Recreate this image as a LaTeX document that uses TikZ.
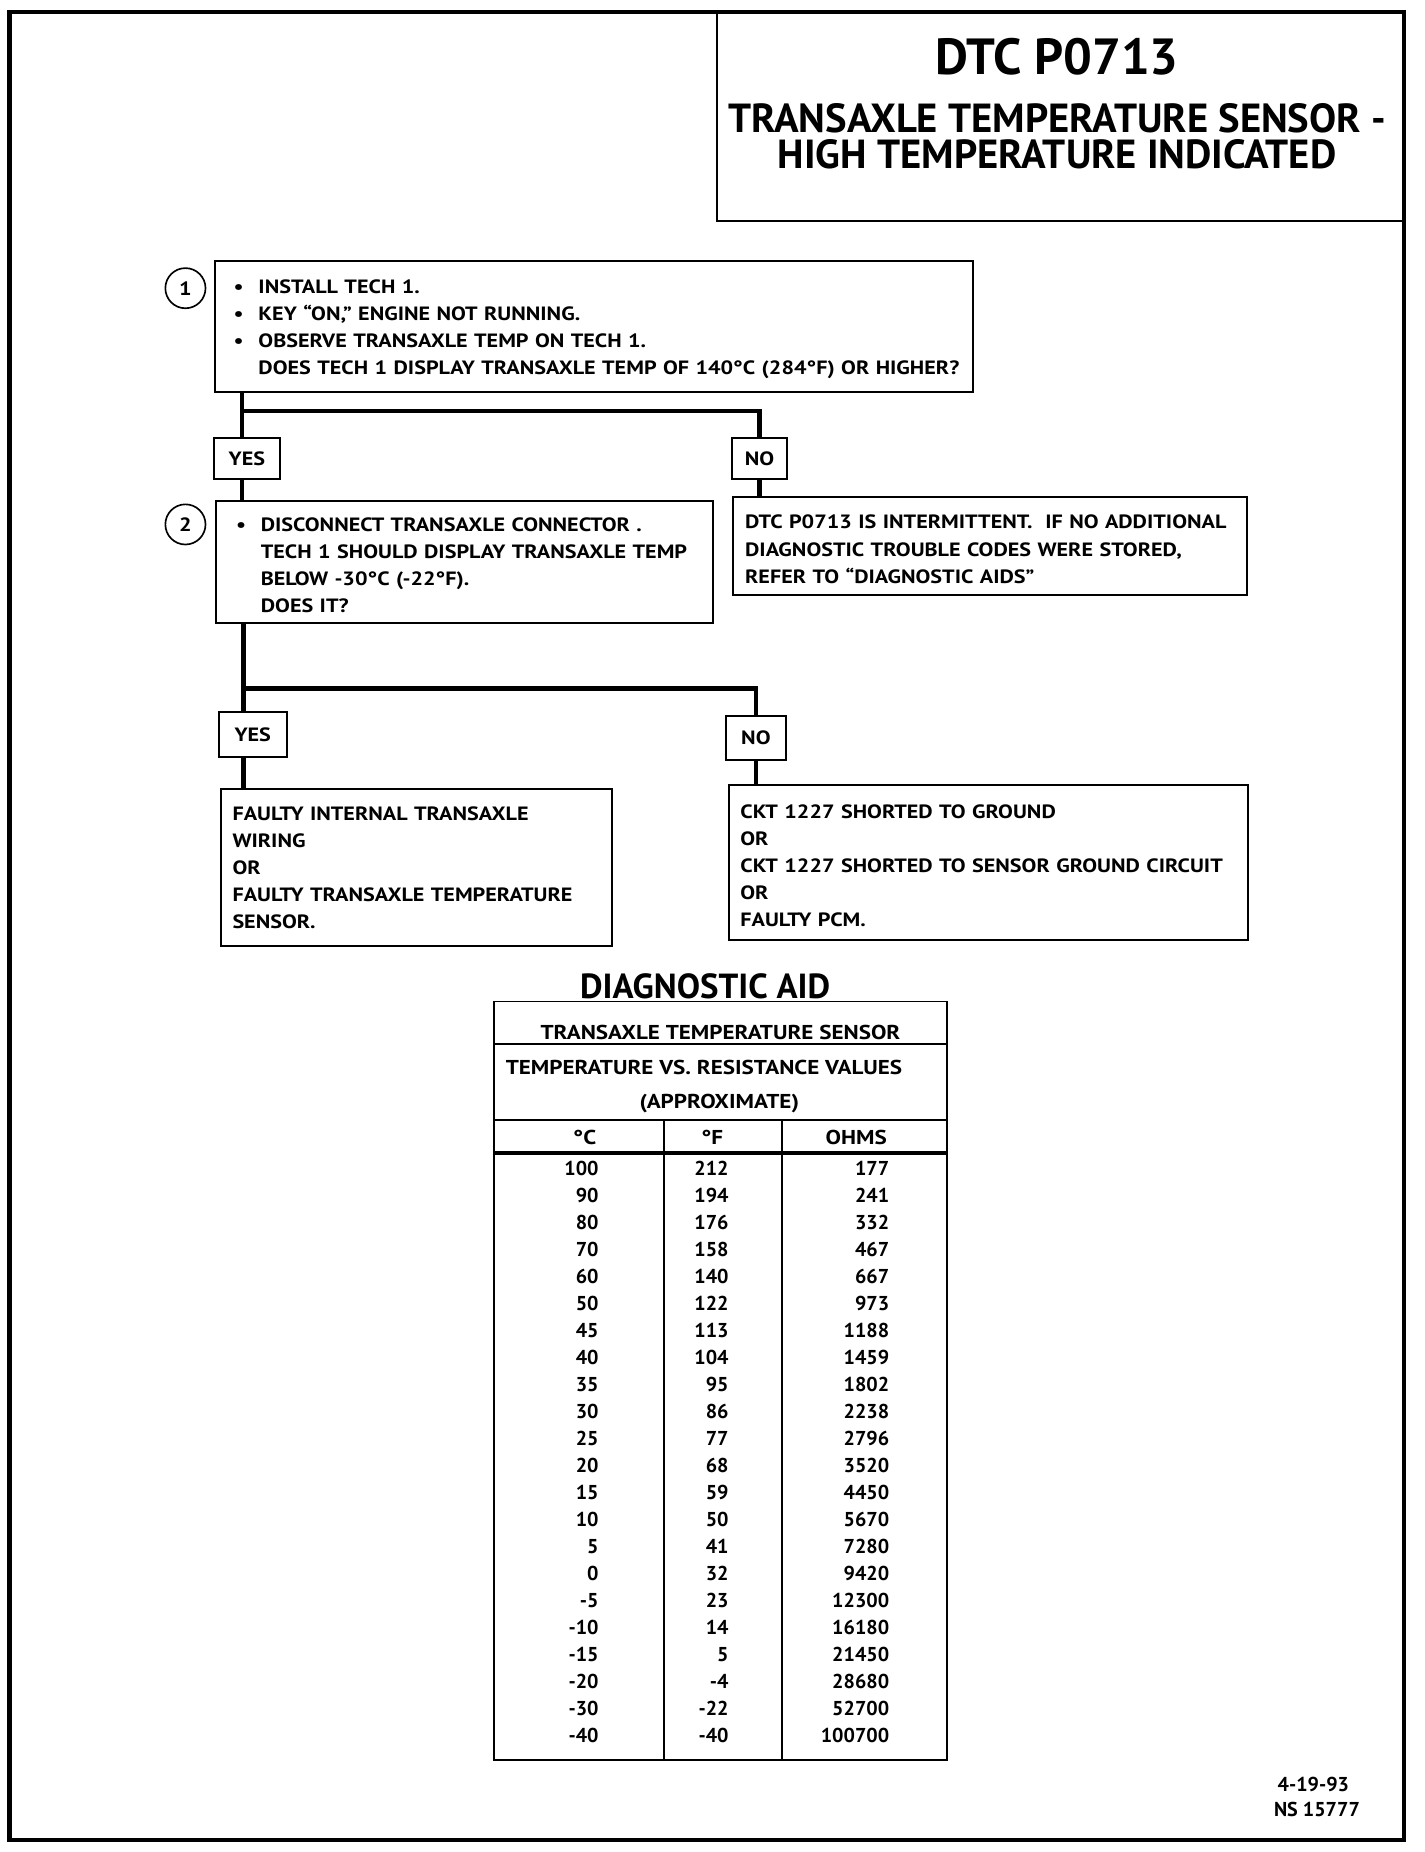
\documentclass[tikz,border=0pt]{standalone}
\usepackage{fontspec}
\setmainfont{PT Sans}
\newfontfamily\widefam{PT Sans}[FakeStretch=1.15]
\usepackage{tikz}
\usetikzlibrary{positioning,calc}
\newcommand\boxfont{\widefam\fontsize{16.3}{22.9}\selectfont\bfseries}
\newcommand\tabfont{\fontsize{17}{22}\selectfont\bfseries}
\newcommand\tabhfont{\widefam\fontsize{17}{22}\selectfont\bfseries}
\newcommand\bul{\rule{0pt}{17pt}\makebox[21pt][l]{\textbullet}}
\newcommand\nobul{\hspace*{21pt}}
\newcommand\topstrut{\rule{0pt}{17pt}}
\tikzset{
  frameln/.style={line width=3.5pt},
  boxln/.style={line width=1.7pt},
  flowln/.style={line width=4pt},
  tabln/.style={line width=1.5pt},
  stepbox/.style={draw,boxln,anchor=north west,align=left,inner xsep=10pt,inner ysep=0pt,font=\boxfont},
  ansbox/.style={draw,boxln,inner sep=0pt,font=\boxfont},
  stepnum/.style={circle,draw,line width=1.4pt,minimum size=34pt,inner sep=0pt,font=\boxfont},
  celltxt/.style={inner sep=0pt,font=\tabfont},
  cellhead/.style={inner sep=0pt,font=\tabhfont},
  cellnum/.style={celltxt,anchor=east},
  ttltxt/.style={inner sep=0pt,font=\fontsize{34.4}{34.4}\selectfont\bfseries},
}

\begin{document}
\begin{tikzpicture}[x=1pt,y=-1pt]
  \useasboundingbox (0,0) rectangle (1206,1568);
  \draw[frameln] (8,10) rectangle (1189,1558);
  % title block
  \node[draw,boxln,anchor=north west,minimum width=582pt,minimum height=176pt] (ttlbox) at (606,10) {};
  \node[font=\fontsize{43}{43}\selectfont\bfseries] (ttl) at (895,48) {DTC P0713};
  \node[ttltxt] (sub1) at (895,100) {TRANSAXLE TEMPERATURE SENSOR -};
  \node[ttltxt] (sub2) at (895,131) {HIGH TEMPERATURE INDICATED};
  % step 1
  \node[stepnum] (n1) at (157,244) {1};
  \node[stepbox,inner xsep=16pt,text width=610pt,minimum height=111pt] (b1) at (181,220)
    {\bul INSTALL TECH 1.\\ \bul KEY “ON,” ENGINE NOT RUNNING.\\ \bul OBSERVE TRANSAXLE TEMP ON TECH 1.\\
     \nobul\mbox{DOES TECH 1 DISPLAY TRANSAXLE TEMP OF 140°C (284°F) OR HIGHER?}};
  \node[ansbox,minimum width=56pt,minimum height=35pt] (yes1) at (209,388) {YES};
  \node[ansbox,minimum width=46pt,minimum height=35pt] (no1) at (643,388) {NO};
  \coordinate (t1) at (205,348);
  \draw[flowln] (b1.south -| t1) -- (t1) -- (yes1.north -| t1);
  \draw[flowln] (t1) -| (no1.north);
  % step 2
  \node[stepnum] (n2) at (157,444) {2};
  \node[stepbox,inner xsep=17pt,text width=387pt,minimum height=104pt] (b2) at (182,423)
    {\bul DISCONNECT TRANSAXLE CONNECTOR .\\ \nobul TECH 1 SHOULD DISPLAY TRANSAXLE TEMP\\
     \nobul BELOW -30°C (-22°F).\\ \nobul DOES IT?};
  \node[stepbox,text width=415pt,minimum height=83pt] (r1) at (620,420)
    {\topstrut DTC P0713 IS INTERMITTENT.\ \ IF NO ADDITIONAL\\ DIAGNOSTIC TROUBLE CODES WERE STORED,\\ REFER TO “DIAGNOSTIC AIDS”};
  \draw[flowln] (yes1.south -| t1) -- (b2.north -| t1);
  \draw[flowln] (no1.south) -- (no1.south |- r1.north);
  \node[ansbox,minimum width=58pt,minimum height=38pt] (yes2) at (214,622) {YES};
  \node[ansbox,minimum width=51pt,minimum height=37pt] (no2) at (640,625) {NO};
  \coordinate (t2) at (206,583);
  \draw[flowln] (b2.south -| t2) -- (t2) -- (yes2.north -| t2);
  \draw[flowln] (t2) -| (no2.north);
  % results
  \node[stepbox,text width=311pt,minimum height=133pt] (rA) at (186,667)
    {FAULTY INTERNAL TRANSAXLE\\ WIRING\\ OR\\ FAULTY TRANSAXLE TEMPERATURE\\ SENSOR.};
  \node[stepbox,text width=420pt,minimum height=131pt] (rB) at (616,664)
    {\topstrut CKT 1227 SHORTED TO GROUND\\ OR\\ CKT 1227 SHORTED TO SENSOR GROUND CIRCUIT\\ OR\\ FAULTY PCM.};
  \draw[flowln] (yes2.south -| t2) -- (rA.north -| t2);
  \draw[flowln] (no2.south) -- (no2.south |- rB.north);
  % diagnostic aid table
  \node[font=\fontsize{29.5}{29.5}\selectfont\bfseries] (aid) at (597,835) {DIAGNOSTIC AID};
  \draw[tabln] (418,848) rectangle (802,1490);
  \draw[tabln] (418,884) -- (802,884);
  \draw[tabln] (418,948) -- (802,948);
  \draw[line width=3pt] (418,976) -- (802,976);
  \draw[tabln] (562,948) -- (562,1490);
  \draw[tabln] (662,948) -- (662,1490);
  \node[cellhead] (th1) at (610,874) {TRANSAXLE TEMPERATURE SENSOR};
  \node[cellhead] (th2) at (596,904) {TEMPERATURE VS. RESISTANCE VALUES};
  \node[cellhead] (th3) at (609,934) {(APPROXIMATE)};
  \node[cellhead] (hc) at (495,963) {°C};
  \node[cellhead] (hf) at (603,963) {°F};
  \node[cellhead] (ho) at (725,963) {OHMS};
  \foreach \tc/\tf/\ohm [count=\i from 0] in {100/212/177,90/194/241,80/176/332,70/158/467,
      60/140/667,50/122/973,45/113/1188,40/104/1459,35/95/1802,30/86/2238,25/77/2796,
      20/68/3520,15/59/4450,10/50/5670,5/41/7280,0/32/9420,-5/23/12300,-10/14/16180,
      -15/5/21450,-20/-4/28680,-30/-22/52700,-40/-40/100700}{
    \node[cellnum] (c\i) at (507,989+\i*22.86) {\tc};
    \node[cellnum] (f\i) at (617,989+\i*22.86) {\tf};
    \node[cellnum] (o\i) at (753,989+\i*22.86) {\ohm};
  }
  % footer
  \node[celltxt] (date) at (1112,1511) {4-19-93};
  \node[celltxt] (ref) at (1115,1532) {NS 15777};
\end{tikzpicture}
\end{document}
